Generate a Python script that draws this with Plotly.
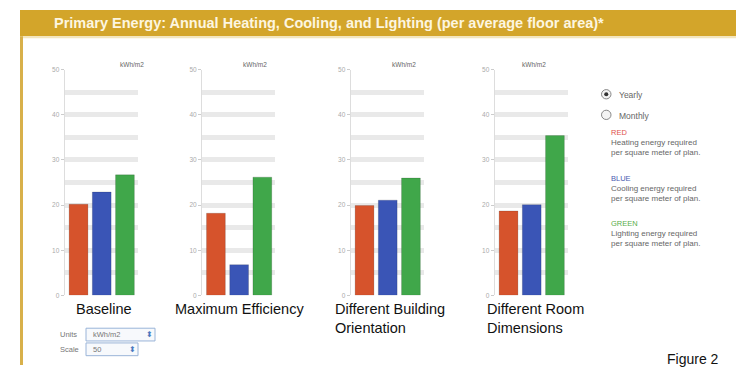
import plotly.graph_objects as go

W, H = 736, 368

scenarios = ["Baseline", "Maximum Efficiency", "Different Building\nOrientation", "Different Room\nDimensions"]
series = ["Heating", "Cooling", "Lighting"]
heating = [20.2, 18.2, 19.9, 18.7]
cooling = [22.9, 6.8, 21.1, 20.1]
lighting = [26.7, 26.2, 26.0, 35.4]
y_ticks = [0, 10, 20, 30, 40, 50]
unit_label = "kWh/m2"
title = "Primary Energy: Annual Heating, Cooling, and Lighting (per average floor area)*"

colors = ["#d6532c", "#3a55b6", "#40a74a"]

def px(x):
    return x / W

def py(y):
    return 1 - y / H

fig = go.Figure()

starts = [64.6, 202.0, 350.6, 494.6]
pw = 73.1
y_dom = [py(297), py(67)]
label_x = [(104, "center"), (239, "center"), (333, "left"), (485, "left")]

layout = dict(
    width=W, height=H, margin=dict(l=0, r=0, t=0, b=0),
    paper_bgcolor="white", plot_bgcolor="rgba(0,0,0,0)",
    showlegend=False, bargap=0.19,
    font=dict(family="Liberation Sans, Arial, sans-serif"),
)

annotations = []
shapes = []

for i, sc in enumerate(scenarios):
    k = "" if i == 0 else str(i + 1)
    vals = [heating[i], cooling[i], lighting[i]]
    fig.add_trace(go.Bar(
        x=series, y=vals, xaxis="x" + k, yaxis="y" + k,
        marker=dict(color=colors, line=dict(color="rgba(0,0,0,0.15)", width=1)),
        hoverinfo="x+y",
    ))
    layout["xaxis" + k] = dict(
        domain=[px(starts[i]), px(starts[i] + pw)], range=[-0.6, 2.55],
        showticklabels=False, showgrid=False, zeroline=False, showline=False,
        anchor="y" + k, fixedrange=True,
    )
    layout["yaxis" + k] = dict(
        domain=y_dom, range=[0, 50], tickvals=y_ticks, ticks="outside", ticklen=3,
        tickcolor="#cccccc", tickfont=dict(size=6.5, color="#aaaaaa"),
        showgrid=True, gridcolor="#e9e9e9", gridwidth=5,
        minor=dict(dtick=5, showgrid=True, gridcolor="#e9e9e9", gridwidth=5),
        showline=True, linecolor="#dddddd", linewidth=1, zeroline=False,
        anchor="x" + k, layer="below traces", fixedrange=True,
    )
    annotations.append(dict(
        x=px(starts[i] + 53), y=py(56), xref="paper", yref="paper",
        text=unit_label, showarrow=False, font=dict(size=6.5, color="#666666"),
    ))
    lines = sc.split("\n")
    lx, anc = label_x[i]
    for j, ln in enumerate(lines):
        annotations.append(dict(
            x=px(lx), y=py(311 + 19 * j), xref="paper", yref="paper",
            text=ln, showarrow=False, xanchor=anc, yanchor="middle",
            font=dict(size=14.5, color="#111111"),
        ))

# header bar
shapes.append(dict(type="rect", xref="paper", yref="paper", x0=px(20), x1=1, y0=py(33), y1=py(6),
                   fillcolor="#d3a52a", line=dict(width=0), layer="below"))
shapes.append(dict(type="rect", xref="paper", yref="paper", x0=px(20), x1=1, y0=py(35), y1=py(33),
                   fillcolor="#f3e6bd", line=dict(width=0), layer="below"))
shapes.append(dict(type="rect", xref="paper", yref="paper", x0=px(20), x1=px(23), y0=0, y1=py(33),
                   fillcolor="#d8b04a", line=dict(width=0), layer="below"))
annotations.append(dict(
    x=px(52), y=py(19), xref="paper", yref="paper", text="<b>" + title + "</b>",
    showarrow=False, xanchor="left", yanchor="middle", font=dict(size=14.5, color="#fdf6e0"),
))

# radio buttons
for yy, lab, sel in [(92, "Yearly", True), (113, "Monthly", False)]:
    shapes.append(dict(type="circle", xref="paper", yref="paper", x0=px(601.5), x1=px(611),
                       y0=py(yy + 4.75), y1=py(yy - 4.75), line=dict(color="#888888", width=1),
                       fillcolor="#f4f4f4"))
    if sel:
        shapes.append(dict(type="circle", xref="paper", yref="paper", x0=px(604.2), x1=px(608.3),
                           y0=py(yy + 2), y1=py(yy - 2), line=dict(width=0), fillcolor="#333333"))
    annotations.append(dict(x=px(617), y=py(yy + 1), xref="paper", yref="paper", text=lab,
                            showarrow=False, xanchor="left", yanchor="middle",
                            font=dict(size=8.5, color="#666666")))

# legend descriptions
legend_items = [("RED", "#e0504a", "Heating energy required", 131),
                ("BLUE", "#4a5ab0", "Cooling energy required", 178),
                ("GREEN", "#5aae4a", "Lighting energy required", 224)]
for name, col, desc, yy in legend_items:
    annotations.append(dict(x=px(609), y=py(yy), xref="paper", yref="paper", text=name,
                            showarrow=False, xanchor="left", yanchor="middle",
                            font=dict(size=7.5, color=col)))
    annotations.append(dict(x=px(609), y=py(yy + 10), xref="paper", yref="paper", text=desc,
                            showarrow=False, xanchor="left", yanchor="middle",
                            font=dict(size=8, color="#666666")))
    annotations.append(dict(x=px(609), y=py(yy + 20), xref="paper", yref="paper",
                            text="per square meter of plan.",
                            showarrow=False, xanchor="left", yanchor="middle",
                            font=dict(size=8, color="#666666")))

# units / scale controls
for yy, lab, val, x1 in [(337, "Units", "kWh/m2", 155), (352, "Scale", "50", 138)]:
    annotations.append(dict(x=px(58), y=py(yy), xref="paper", yref="paper", text=lab,
                            showarrow=False, xanchor="left", yanchor="middle",
                            font=dict(size=7.5, color="#777777")))
    shapes.append(dict(type="rect", xref="paper", yref="paper", x0=px(86), x1=px(x1),
                       y0=py(yy + 6.5), y1=py(yy - 6.5), line=dict(color="#9ab4d8", width=1),
                       fillcolor="#f7f9fc"))
    annotations.append(dict(x=px(91), y=py(yy), xref="paper", yref="paper", text=val,
                            showarrow=False, xanchor="left", yanchor="middle",
                            font=dict(size=7.5, color="#777777")))
    annotations.append(dict(x=px(x1 - 6), y=py(yy), xref="paper", yref="paper", text="⬍",
                            showarrow=False, xanchor="center", yanchor="middle",
                            font=dict(size=8, color="#4a78c0")))

annotations.append(dict(x=px(721), y=py(362), xref="paper", yref="paper", text="Figure 2",
                        showarrow=False, xanchor="right", yanchor="middle",
                        font=dict(size=14, color="#111111")))

layout["annotations"] = annotations
layout["shapes"] = shapes
fig.update_layout(**layout)
fig.write_html("out.html")
